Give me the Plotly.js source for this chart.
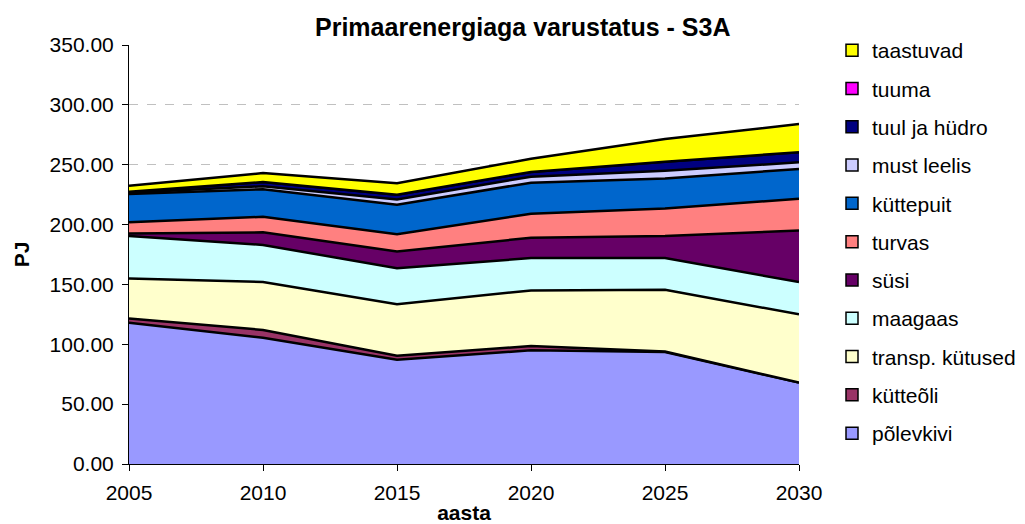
<!DOCTYPE html>
<html>
<head>
<meta charset="utf-8">
<script src="https://cdn.plot.ly/plotly-3.0.1.min.js"></script>
<style>html,body{margin:0;padding:0;background:#fff;}#chart{width:1025px;height:524px;}</style>
</head>
<body>
<div id="chart"></div>
<script>
const years = [2005, 2010, 2015, 2020, 2025, 2030];
const seriesNames = ['põlevkivi', 'kütteõli', 'transp. kütused', 'maagaas', 'süsi', 'turvas', 'küttepuit', 'must leelis', 'tuul ja hüdro', 'tuuma', 'taastuvad'];
const seriesColors = ['#9999FF', '#993366', '#FFFFCC', '#CCFFFF', '#660066', '#FF8080', '#0066CC', '#CCCCFF', '#000080', '#FF00FF', '#FFFF00'];
const polevkivi = [118, 105.5, 87, 95, 93.5, 68];
const kytteoli = [3.5, 6.5, 3.5, 3.5, 0.5, 0];
const transp = [33.5, 40, 43, 46.5, 51.5, 57];
const maagaas = [35.5, 31, 30, 27, 26.5, 27];
const susi = [2, 10.5, 14, 17, 18.5, 43];
const turvas = [9.5, 13, 14.5, 20, 23, 26.5];
const kyttepuit = [23.5, 23, 24.5, 26, 25, 25];
const mustLeelis = [1, 2.5, 4.5, 5, 6.5, 5.5];
const tuulJaHydro = [1, 3.5, 4, 4, 7.5, 8.5];
const tuuma = [0, 0, 0, 0, 0, 0];
const taastuvad = [5, 7.5, 9.5, 11, 19, 23.5];

const seriesValues = [polevkivi, kytteoli, transp, maagaas, susi, turvas, kyttepuit, mustLeelis, tuulJaHydro, tuuma, taastuvad];

const traces = [];
seriesValues.forEach((vals, i) => {
  traces.push({
    x: years, y: vals, type: 'scatter', mode: 'lines',
    stackgroup: 'one', fillcolor: seriesColors[i],
    line: {color: '#000000', width: 2.5},
    name: seriesNames[i], showlegend: false, hoverinfo: 'skip'
  });
});
// legend entries (top to bottom: taastuvad ... põlevkivi)
for (let i = seriesNames.length - 1; i >= 0; i--) {
  traces.push({
    x: [null], y: [null], type: 'scatter', mode: 'markers',
    marker: {symbol: 'square', size: 12, color: seriesColors[i], line: {color: '#000000', width: 1.5}},
    name: seriesNames[i], legendgroup: 'g' + i, showlegend: true
  });
}

const font = 'Liberation Sans, Arial, sans-serif';
const layout = {
  width: 1025, height: 524,
  margin: {l: 129, r: 226, t: 45, b: 60, autoexpand: false},
  paper_bgcolor: '#ffffff', plot_bgcolor: '#ffffff',
  font: {family: font, size: 21, color: '#000000'},
  title: {text: '<b>Primaarenergiaga varustatus - S3A</b>', font: {family: font, size: 25, color: '#000'},
          x: 0.51, xref: 'container', xanchor: 'center', y: 0.948, yref: 'container', yanchor: 'middle'},
  xaxis: {
    range: [2005, 2030], dtick: 5, tick0: 2005, ticks: 'outside', ticklen: 6, tickcolor: '#000',
    showline: true, linecolor: '#000', linewidth: 1, showgrid: false, zeroline: false,
    tickfont: {family: font, size: 21}, ticklabelstandoff: 4,
    title: {text: '<b>aasta</b>', font: {family: font, size: 21}, standoff: 5},
    automargin: false
  },
  yaxis: {
    range: [0, 350], dtick: 50, ticks: 'outside', ticklen: 6, tickcolor: '#000', tickformat: '.2f',
    showline: true, linecolor: '#000', linewidth: 1,
    showgrid: true, gridcolor: '#C0C0C0', griddash: 'dash', gridwidth: 1, zeroline: false,
    tickfont: {family: font, size: 21}, ticklabelstandoff: 4,
    title: {text: '<b>PJ</b>', font: {family: font, size: 21}, standoff: 14},
    automargin: false
  },
  legend: {
    x: 832 / 1025, xref: 'container', xanchor: 'left', y: 1 - 30 / 524, yref: 'container', yanchor: 'top',
    font: {family: font, size: 21}, traceorder: 'grouped', tracegroupgap: 8, maxheight: 600,
    bgcolor: 'rgba(0,0,0,0)', borderwidth: 0
  },
  showlegend: true
};

Plotly.newPlot('chart', traces, layout, {displayModeBar: false, staticPlot: true});
</script>
</body>
</html>
